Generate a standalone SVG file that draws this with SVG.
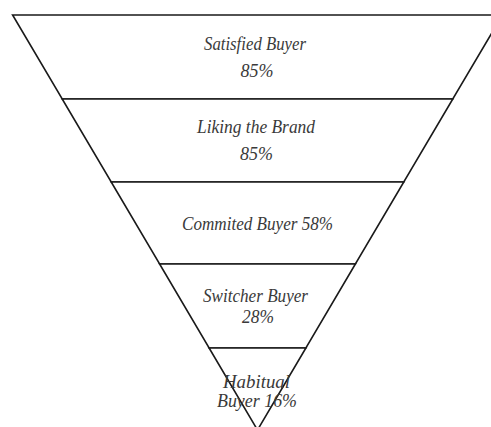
<svg xmlns="http://www.w3.org/2000/svg" width="491" height="427" viewBox="0 0 491 427">
<style>
.band{fill:#fff;stroke:#1a1a1a;stroke-width:1.6;stroke-linejoin:miter}
.t{font-family:"Liberation Serif","Times New Roman",serif;font-style:italic;font-size:18px;fill:#3a3a3a;text-anchor:middle}
</style>
<rect width="491" height="427" fill="#fff"/>
<g id="satisfied">
<polygon class="band" points="12.6,15 502.4,15 452.8,99 62.2,99"/>
<text class="t" x="255" y="50" textLength="102" lengthAdjust="spacingAndGlyphs">Satisfied Buyer</text>
<text class="t" x="257" y="77" textLength="33" lengthAdjust="spacingAndGlyphs">85%</text>
</g>
<g id="liking">
<polygon class="band" points="62.2,99 452.8,99 403.8,182 111.2,182"/>
<text class="t" x="256" y="133" textLength="118" lengthAdjust="spacingAndGlyphs">Liking the Brand</text>
<text class="t" x="256.5" y="160" textLength="33" lengthAdjust="spacingAndGlyphs">85%</text>
</g>
<g id="committed">
<polygon class="band" points="111.2,182 403.8,182 355.4,264 159.6,264"/>
<text class="t" x="257.5" y="230" textLength="151" lengthAdjust="spacingAndGlyphs">Commited Buyer 58%</text>
</g>
<g id="switcher">
<polygon class="band" points="159.6,264 355.4,264 305.9,348 209.1,348"/>
<text class="t" x="255.5" y="302" textLength="105" lengthAdjust="spacingAndGlyphs">Switcher Buyer</text>
<text class="t" x="258" y="323" textLength="32" lengthAdjust="spacingAndGlyphs">28%</text>
</g>
<g id="habitual">
<polygon class="band" points="209.1,348 305.9,348 257.5,430"/>
<text class="t" x="256.5" y="388" textLength="67" lengthAdjust="spacingAndGlyphs">Habitual</text>
<text class="t" x="257" y="407" textLength="80" lengthAdjust="spacingAndGlyphs">Buyer 16%</text>
</g>
</svg>
